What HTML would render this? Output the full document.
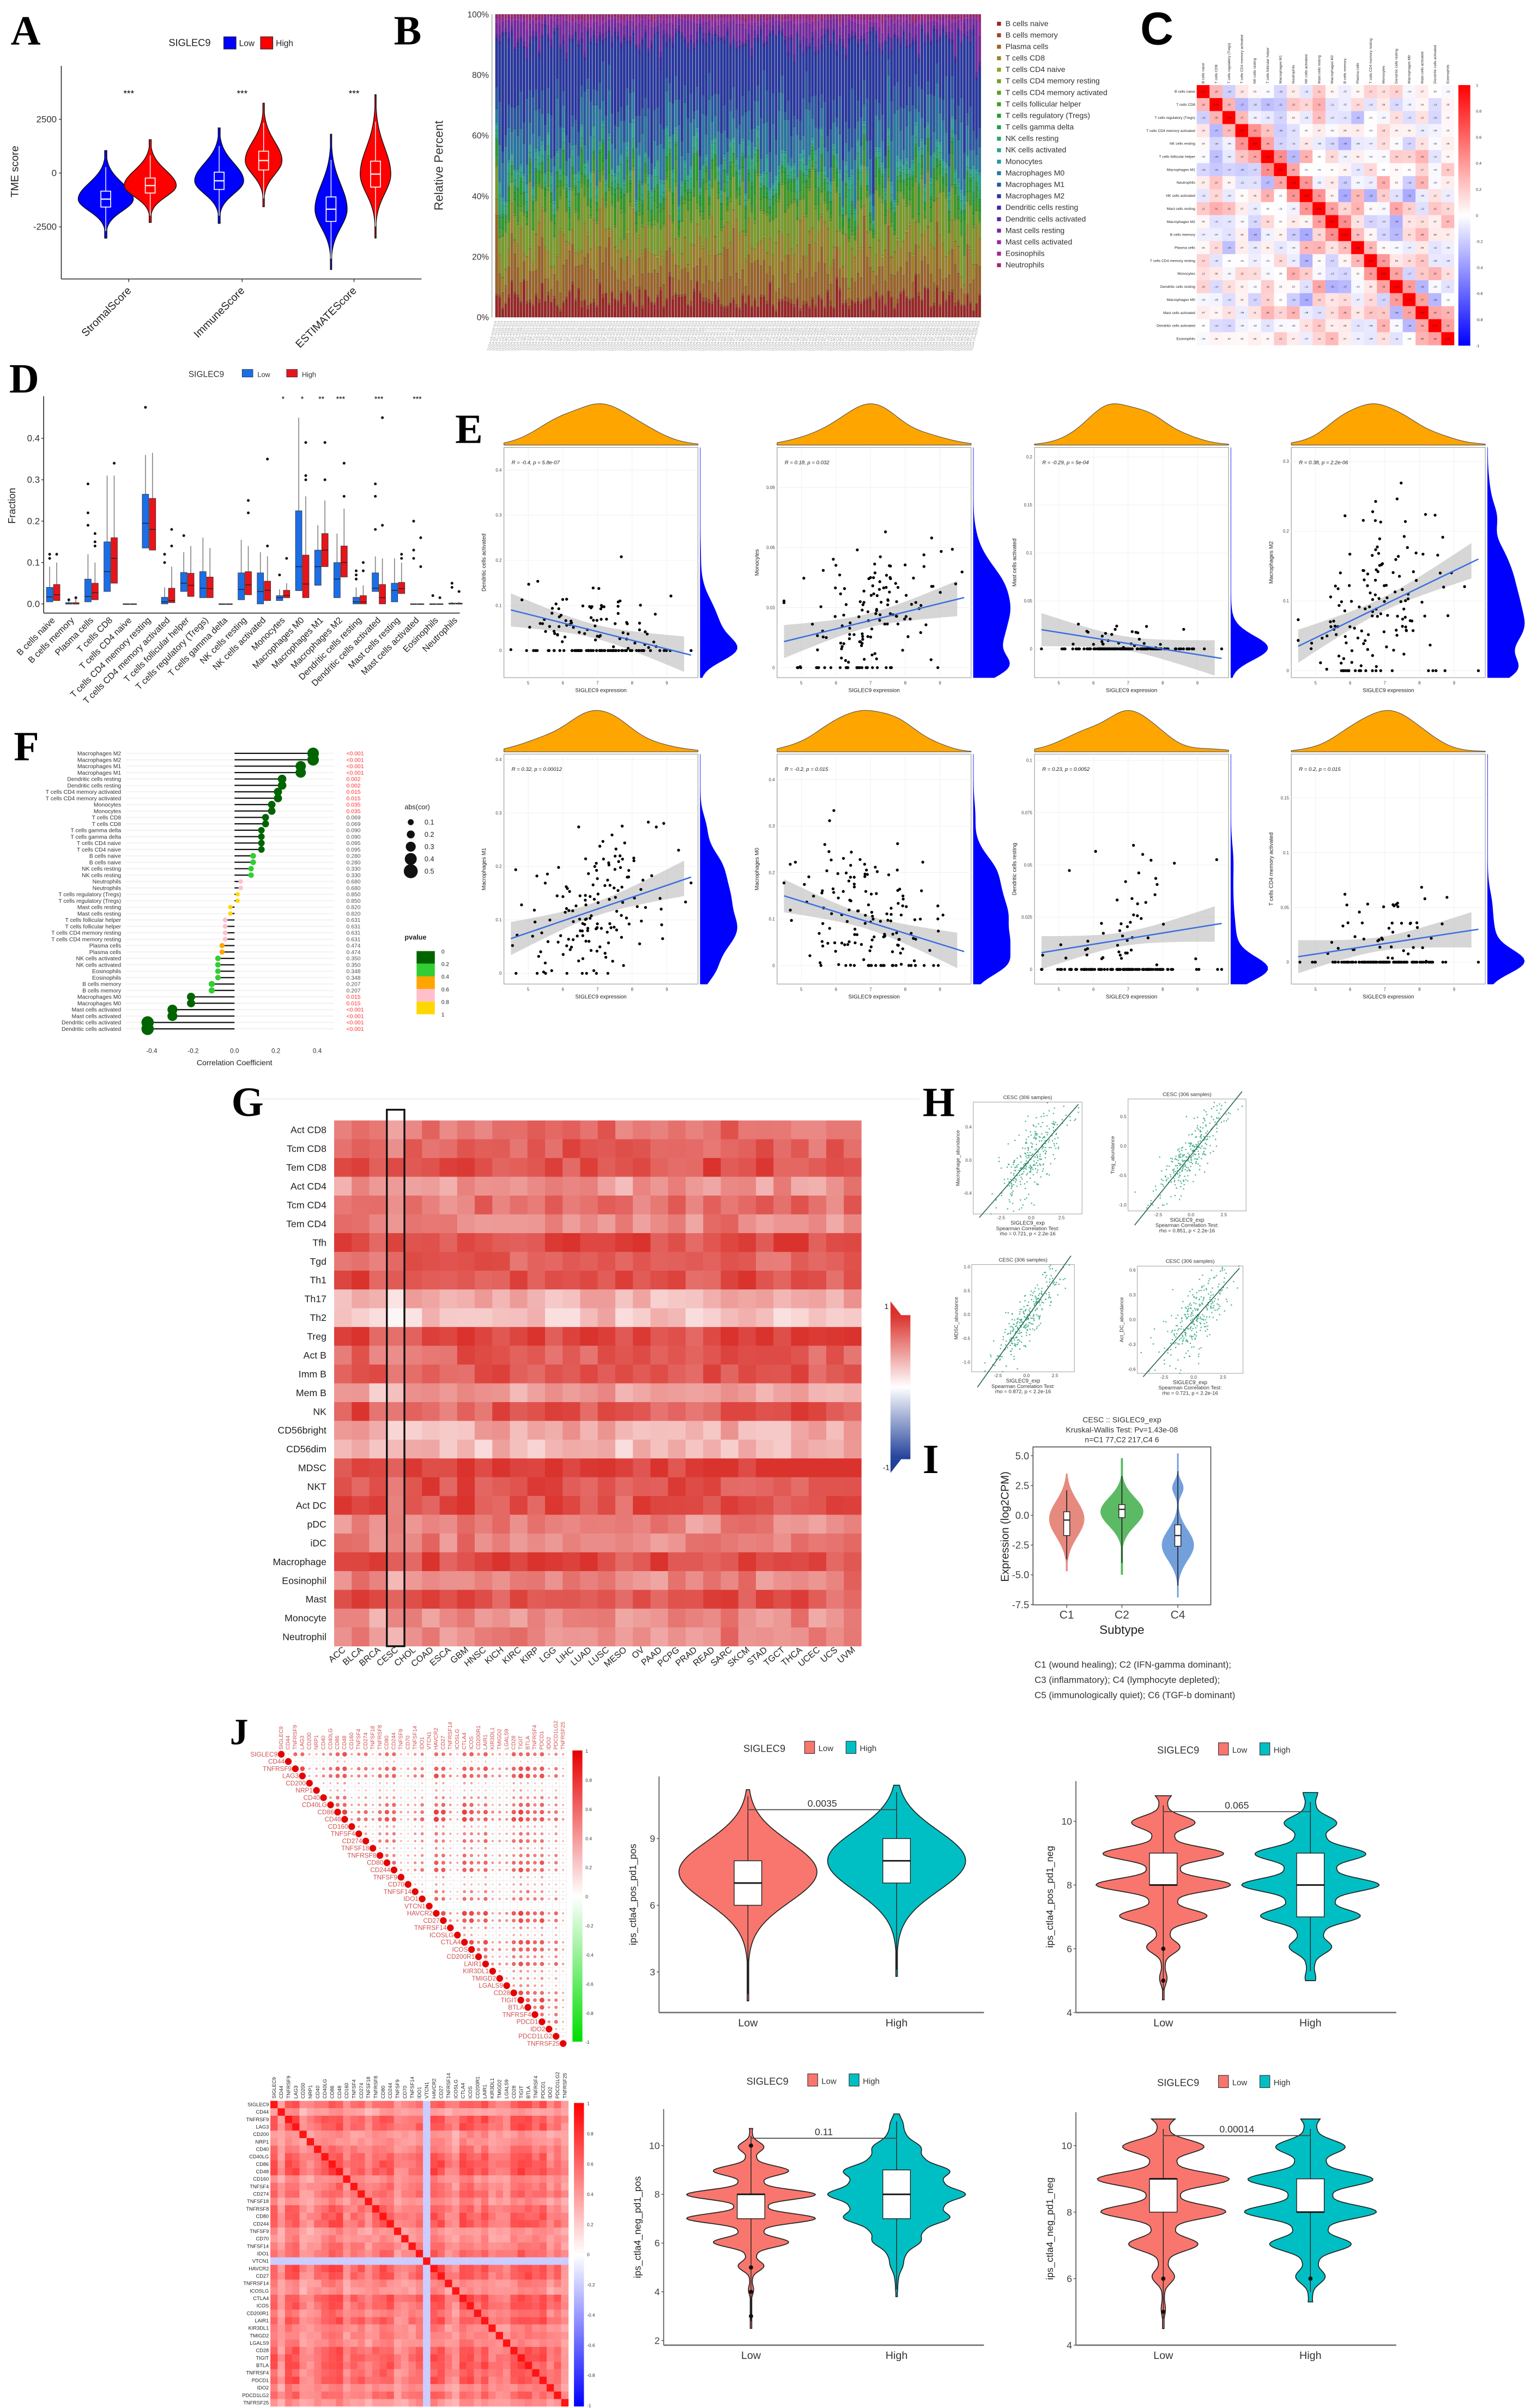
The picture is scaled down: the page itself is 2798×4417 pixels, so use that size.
<!DOCTYPE html>
<html><head><meta charset="utf-8"><title>SIGLEC9 immune infiltration figure</title>
<style>html,body{margin:0;padding:0;background:#fff}svg{display:block}</style></head>
<body>
<svg id="fig" xmlns="http://www.w3.org/2000/svg" width="2798" height="4417" viewBox="0 0 995 1571" preserveAspectRatio="none" font-family="Liberation Sans, Arial, sans-serif"></svg>
<script>
// ---------------- DATA ARRAYS ----------------
const tmeGroups=['StromalScore','ImmuneScore','ESTIMATEScore'];
const tmeLowMed=[-1210,-360,-1680];
const tmeLowSd=[550,600,850];
const tmeHighMed=[-580,580,-50];
const tmeHighSd=[520,650,900];

const cellTypes=['B cells naive','B cells memory','Plasma cells','T cells CD8','T cells CD4 naive','T cells CD4 memory resting','T cells CD4 memory activated','T cells follicular helper','T cells regulatory (Tregs)','T cells gamma delta','NK cells resting','NK cells activated','Monocytes','Macrophages M0','Macrophages M1','Macrophages M2','Dendritic cells resting','Dendritic cells activated','Mast cells resting','Mast cells activated','Eosinophils','Neutrophils'];
const cibMean=[0.07,0.01,0.12,0.11,0.005,0.14,0.01,0.05,0.04,0.01,0.04,0.03,0.01,0.12,0.1,0.28,0.01,0.02,0.05,0.02,0.005,0.01];
const nSamples=160;

const cLabels=['B cells naive','T cells CD8','T cells regulatory (Tregs)','T cells CD4 memory activated','NK cells resting','T cells follicular helper','Macrophages M1','Neutrophils','NK cells activated','Mast cells resting','Macrophages M2','B cells memory','Plasma cells','T cells CD4 memory resting','Monocytes','Dendritic cells resting','Macrophages M0','Mast cells activated','Dendritic cells activated','Eosinophils'];

const dLowQ1=[.005,0,.005,.03,0,.135,0,.03,.015,0,.01,0,.008,.032,.045,.015,0,.03,.005,0,0,0];
const dLowMed=[.017,0,.018,.078,0,.195,.005,.05,.038,0,.035,.03,.015,.09,.09,.06,.005,.038,.033,0,0,0];
const dLowQ3=[.04,.003,.06,.15,0,.265,.016,.076,.078,0,.075,.075,.02,.225,.13,.1,.016,.075,.05,0,0,.002];
const dLowMax=[.09,.01,.12,.31,0,.36,.04,.125,.16,0,.155,.125,.035,.45,.19,.17,.04,.115,.11,0,0,.005];
const dHighQ1=[.008,0,.01,.05,0,.13,.003,.018,.015,0,.022,.008,.015,.015,.09,.065,0,0,.025,0,0,0];
const dHighMed=[.022,0,.027,.11,0,.18,.008,.045,.037,0,.046,.033,.02,.048,.13,.1,.005,.015,.037,0,0,0];
const dHighQ3=[.047,.003,.05,.16,0,.255,.038,.074,.065,0,.078,.055,.033,.118,.17,.14,.02,.047,.052,0,0,.002];
const dHighMax=[.1,.012,.1,.31,0,.365,.09,.14,.135,0,.14,.115,.05,.26,.25,.23,.045,.11,.1,0,0,.005];
const dLowOut=[[.12,.11],[.01],[.29,.22,.19],[],[],[.475],[.12,.1],[.165],[],[],[],[],[.07],[],[],[],[.08,.07,.06],[.29,.26,.18],[],[.2,.13,.11],[.02],[.05,.04]];
const dHighOut=[[.12],[.015],[.17,.15,.14],[.34],[],[],[.18,.14],[],[],[],[.25,.22],[.35,.14],[.11],[.39,.31,.3],[.39,.3],[.34,.26],[.1,.08],[.45,.19],[.12,.11],[.16,.09],[.015],[.03]];
const dSig=['','','','','','','','','','','','','*','*','**','***','','***','','***','',''];

const eYLabels=['Dendritic cells activated','Monocytes','Mast cells activated','Macrophages M2','Macrophages M1','Macrophages M0','Dendritic cells resting','T cells CD4 memory activated'];
const eRText=['R = -0.4, p = 5.8e-07','R = 0.18, p = 0.032','R = -0.29, p = 5e-04','R = 0.38, p = 2.2e-06','R = 0.32, p = 0.00012','R = -0.2, p = 0.015','R = 0.23, p = 0.0052','R = 0.2, p = 0.015'];
const eYmin=[-0.06,-0.005,-0.03,-0.01,-0.02,-0.04,-0.007,-0.02];
const eYmax=[0.45,0.11,0.21,0.32,0.41,0.455,0.103,0.19];
const eLineA=[0.09,0.013,0.02,0.035,0.065,0.15,0.008,0.005];
const eLineB=[-0.01,0.035,-0.01,0.16,0.18,0.03,0.022,0.03];
const eNoise=[0.05,0.018,0.012,0.06,0.07,0.08,0.022,0.025];
const eZeroFrac=[0.25,0.1,0.75,0.05,0.02,0.05,0.6,0.55];
const eTicks=[[0,0.1,0.2,0.3,0.4],[0,0.03,0.06,0.09],[0,0.05,0.1,0.15,0.2],[0,0.1,0.2,0.3],[0,0.1,0.2,0.3,0.4],[0,0.1,0.2,0.3,0.4],[0,0.025,0.05,0.075,0.1],[0,0.05,0.1,0.15]];

const fLabels=['Macrophages M2','Macrophages M1','Dendritic cells resting','T cells CD4 memory activated','Monocytes','T cells CD8','T cells gamma delta','T cells CD4 naive','B cells naive','NK cells resting','Neutrophils','T cells regulatory (Tregs)','Mast cells resting','T cells follicular helper','T cells CD4 memory resting','Plasma cells','NK cells activated','Eosinophils','B cells memory','Macrophages M0','Mast cells activated','Dendritic cells activated'];
const fCor=[0.38,0.32,0.23,0.21,0.18,0.15,0.13,0.13,0.09,0.08,0.03,0.015,-0.02,-0.045,-0.045,-0.06,-0.08,-0.08,-0.11,-0.21,-0.3,-0.42];
const fP=[0.0001,0.0001,0.002,0.015,0.035,0.069,0.09,0.095,0.28,0.33,0.68,0.85,0.82,0.631,0.631,0.474,0.35,0.348,0.207,0.015,0.0001,0.0001];

const gRows=['Act CD8','Tcm CD8','Tem CD8','Act CD4','Tcm CD4','Tem CD4','Tfh','Tgd','Th1','Th17','Th2','Treg','Act B','Imm B','Mem B','NK','CD56bright','CD56dim','MDSC','NKT','Act DC','pDC','iDC','Macrophage','Eosinophil','Mast','Monocyte','Neutrophil'];
const gCols=['ACC','BLCA','BRCA','CESC','CHOL','COAD','ESCA','GBM','HNSC','KICH','KIRC','KIRP','LGG','LIHC','LUAD','LUSC','MESO','OV','PAAD','PCPG','PRAD','READ','SARC','SKCM','STAD','TGCT','THCA','UCEC','UCS','UVM'];
const gRowBase=[0.65,0.78,0.85,0.5,0.68,0.58,0.9,0.75,0.86,0.38,0.28,0.92,0.75,0.8,0.42,0.8,0.38,0.32,0.95,0.82,0.85,0.6,0.6,0.9,0.58,0.8,0.55,0.6];
const gColOff=[0,0.05,-0.05,-0.02,-0.02,0.03,-0.05,0.04,0,0.02,-0.03,0.01,0,0.02,-0.01,0.05,-0.04,0.01,-0.02,0,-0.05,0.01,0.05,0.02,0.01,0,0.04,-0.02,-0.03,0.05];

const hYLabels=['Macrophage_abundance','Treg_abundance','MDSC_abundance','Act_DC_abundance'];
const hRho=[0.721,0.851,0.872,0.721];
const hRhoText=['rho = 0.721, p < 2.2e-16','rho = 0.851, p < 2.2e-16','rho = 0.872, p < 2.2e-16','rho = 0.721, p < 2.2e-16'];
const hTicks=[[-0.4,0,0.4],[-1,-0.5,0,0.5],[-1,-0.5,0,0.5,1],[-0.6,-0.3,0,0.3,0.6]];
const hYRange=[[-0.65,0.7],[-1.1,0.8],[-1.2,1.05],[-0.65,0.65]];

const iSubtypes=['C1','C2','C4'];
const iMed=[-0.4,0.5,-1.7];
const iQ1=[-1.7,-0.2,-2.6];
const iQ3=[0.3,0.9,-0.8];
const iMin=[-4.7,-5.0,-6.9];
const iMax=[3.6,4.8,5.2];
const iPeak=[-0.3,0.3,-2.5];
const iSd=[1.5,1.2,1.3];

const genes=['SIGLEC9','CD44','TNFRSF9','LAG3','CD200','NRP1','CD40','CD40LG','CD86','CD48','CD160','TNFSF4','CD274','TNFSF18','TNFRSF8','CD80','CD244','TNFSF9','CD70','TNFSF14','IDO1','VTCN1','HAVCR2','CD27','TNFRSF14','ICOSLG','CTLA4','ICOS','CD200R1','LAIR1','KIR3DL1','TMIGD2','LGALS9','CD28','TIGIT','BTLA','TNFRSF4','PDCD1','IDO2','PDCD1LG2','TNFRSF25'];
const geneStrength=[0.85,0.35,0.9,0.9,0.45,0.45,0.65,0.8,0.95,0.95,0.5,0.7,0.75,0.5,0.75,0.85,0.85,0.45,0.5,0.65,0.75,0.05,0.95,0.9,0.55,0.45,0.95,0.9,0.7,0.9,0.55,0.6,0.55,0.85,0.95,0.9,0.8,0.9,0.55,0.75,0.45];

const ipsLabels=['ips_ctla4_pos_pd1_pos','ips_ctla4_pos_pd1_neg','ips_ctla4_neg_pd1_pos','ips_ctla4_neg_pd1_neg'];
const ipsP=['0.0035','0.065','0.11','0.00014'];
const ipsLowMed=[7,8,8,9];
const ipsLowQ1=[6,8,7,8];
const ipsLowQ3=[8,9,8,9];
const ipsHighMed=[8,8,8,8];
const ipsHighQ1=[7,7,7,8];
const ipsHighQ3=[9,9,9,9];
const ipsLowRange=[[1.7,11.2],[4.4,10.8],[2.5,10.7],[4.5,10.8]];
const ipsHighRange=[[2.8,11.4],[5,10.9],[3.8,11.3],[5.3,10.8]];
const ipsLowCenter=[7.5,8.3,7.5,8.6];
const ipsHighCenter=[8,8.1,8,8.4];
const ipsLowWave=[0,1,1,1];
const ipsHighWave=[0,0.8,0.35,0.9];
const ipsLowOut=[[],[6,5],[10,5,4,3],[6,5]];
const ipsHighOut=[[],[],[],[6]];
const ipsTicks=[[3,6,9],[4,6,8,10],[2,4,6,8,10],[4,6,8,10]];

// ---------------- HELPERS ----------------
const NS='http://www.w3.org/2000/svg';
const svg=document.getElementById('fig');
function mk(tag,at,par){const e=document.createElementNS(NS,tag);for(const k in at)e.setAttribute(k,at[k]);(par||svg).appendChild(e);return e;}
function nm(e,n){


return e;}
function tx(x,y,s,fs,o,n,par){const t=mk('text',Object.assign({x:x,y:y,'font-size':fs},o||{}),par);t.textContent=s;nm(t,n||'label');return t;}
function grp(n){const g=mk('g',{});nm(g,n);return g;}
let seed=12345;
function rnd(){seed=(seed*16807)%2147483647;return (seed-1)/2147483646;}
function rnorm(){const u=Math.max(rnd(),1e-9),v=rnd();return Math.sqrt(-2*Math.log(u))*Math.cos(2*Math.PI*v);}
function lerp(a,b,t){return a.map((x,i)=>Math.round(x+(b[i]-x)*t));}
function rgb(c){return 'rgb('+c.join(',')+')';}
function divc(v,neg,pos){v=Math.max(-1,Math.min(1,v));return rgb(v>=0?lerp([255,255,255],pos,v):lerp([255,255,255],neg,-v));}
function letter(ch,x,y,sans){tx(x,y,ch,sans?30:27,{'font-family':sans?'Liberation Sans, sans-serif':'Liberation Serif, serif','font-weight':'bold'},'panel-label-'+ch.toLowerCase());}
function line(x1,y1,x2,y2,st,w,par,n){const l=mk('line',{x1:x1,y1:y1,x2:x2,y2:y2,stroke:st,'stroke-width':w},par);nm(l,n||'line');return l;}
function violinPath(cx,yf,vals,widths){let r='',l='';for(let i=0;i<vals.length;i++){r+=(i?'L':'M')+(cx+widths[i]).toFixed(2)+','+yf(vals[i]).toFixed(2);}for(let i=vals.length-1;i>=0;i--){l+='L'+(cx-widths[i]).toFixed(2)+','+yf(vals[i]).toFixed(2);}return r+l+'Z';}
function kde(arr,at,bw){let s=0;for(const a of arr){const z=(at-a)/bw;s+=Math.exp(-0.5*z*z);}return s;}

// ---------------- PANEL A ----------------
(function(){
const g=grp('panel-a-tme-violin');
letter('A',7,29);
const yA=v=>112.9-v*35.1/2500;
line(40,43,40,182,'#333',0.6,g,'y-axis');
line(40,182,275,182,'#333',0.6,g,'x-axis');
[2500,0,-2500].forEach(v=>{line(38.5,yA(v),40,yA(v),'#333',0.5,g,'y-tick');tx(37,yA(v)+2,String(v),6,{'text-anchor':'end',fill:'#333'},'y-tick-label',g);});
tx(12,112,'TME score',7,{'text-anchor':'middle',transform:'rotate(-90 12 112)',fill:'#222'},'y-axis-title',g);
const centers=[84,158,231];
const hwL=[18,16,10.5],hwH=[17,12,10];
tmeGroups.forEach((name,i)=>{
 const cx=centers[i];
 [[tmeLowMed[i],tmeLowSd[i],cx-15,hwL[i],'#0000ff','low'],[tmeHighMed[i],tmeHighSd[i],cx+14,hwH[i],'#ff0000','high']].forEach(d=>{
  const [med,sd,x,hw,col,lv]=d;const vals=[],ws=[];
  for(let t=-3.3;t<=4.2;t+=0.1){vals.push(med+t*sd);const sk=t>0?Math.exp(-0.5*(t/1.35)**2):Math.exp(-0.5*t*t);ws.push(hw*Math.max(0.04,sk));}
  const p=mk('path',{d:violinPath(x,yA,vals,ws),fill:col,stroke:'#111','stroke-width':0.5},g);nm(p,'violin-'+lv+'-'+name);
  const q1=yA(med-0.67*sd),q3=yA(med+0.67*sd);
  line(x,yA(med-2.7*sd),x,yA(med+2.7*sd),'#fff',0.5,g,'whisker');
  const b=mk('rect',{x:x-3.2,y:q3,width:6.4,height:q1-q3,fill:col,stroke:'#fff','stroke-width':0.6},g);nm(b,'box-'+lv+'-'+name);
  line(x-3.2,yA(med),x+3.2,yA(med),'#fff',0.8,g,'median');
 });
 tx(cx,63,'***',6,{'text-anchor':'middle'},'significance-stars',g);
 line(cx,182,cx,184,'#333',0.5,g,'x-tick');
 tx(cx+2,190,name,7,{'text-anchor':'end',transform:'rotate(-45 '+(cx+2)+' 190)',fill:'#222'},'x-tick-label',g);
});
tx(110,30,'SIGLEC9',6.5,{fill:'#222'},'legend-title',g);
const lb=mk('rect',{x:146,y:24,width:8,height:8,fill:'#0000ff',stroke:'#222','stroke-width':0.4},g);nm(lb,'legend-swatch-low');
tx(156,30,'Low',5.5,{fill:'#222'},'legend-label-low',g);
const hb=mk('rect',{x:170,y:24,width:8,height:8,fill:'#ff0000',stroke:'#222','stroke-width':0.4},g);nm(hb,'legend-swatch-high');
tx(180,30,'High',5.5,{fill:'#222'},'legend-label-high',g);
})();

// ---------------- PANEL B ----------------
(function(){
const g=grp('panel-b-stacked-bar');
letter('B',257,29);
const x0=323.2,x1=640.3,yT=9.3,yB=207;
const col=i=>'hsl('+(i*15.5)+',62%,'+(i<10?38:40)+'%)';
const bw=(x1-x0)/nSamples;
const labG=grp('sample-labels');
for(let s=0;s<nSamples;s++){
 const fr=cibMean.map(m=>m*Math.exp(0.45*rnorm()));const tot=fr.reduce((a,b)=>a+b,0);
 let acc=0;
 fr.forEach((f,i)=>{const h=f/tot*(yB-yT);const r=mk('rect',{x:(x0+s*bw).toFixed(2),y:(yB-acc-h).toFixed(2),width:(bw*0.85).toFixed(2),height:h.toFixed(2),fill:col(i),stroke:'#222','stroke-width':0.08},g);nm(r,'bar-segment');acc+=h;});
 const lx=x0+s*bw+bw/2;
 tx(lx,209.5,'TCGA-'+['C5','EK','FU','VS','DS','MY'][s%6]+'-A'+(100+s)+'-01A',2.2,{'text-anchor':'end',fill:'#999',transform:'rotate(-76 '+lx+' 209.5)'},'sample-label',labG);
}
line(321,yT,321,yB,'#888',0.4,g,'y-axis');
[0,20,40,60,80,100].forEach(v=>{const y=yB-v/100*(yB-yT);tx(319,y+2,v+'%',5.5,{'text-anchor':'end',fill:'#333'},'y-tick-label',g);});
tx(289,108,'Relative Percent',8,{'text-anchor':'middle',transform:'rotate(-90 289 108)',fill:'#333'},'y-axis-title',g);
cellTypes.forEach((n,i)=>{const y=17+i*7.5;const r=mk('rect',{x:650.5,y:y-2.8,width:2.6,height:2.6,fill:col(i)},g);nm(r,'legend-swatch');tx(656,y,n,5,{fill:'#333'},'legend-entry',g);});
})();

// ---------------- PANEL C ----------------
(function(){
const g=grp('panel-c-correlation-heatmap');
letter('C',744,29,true);
const n=cLabels.length,x0=780.8,y0=55.5,cw=168/n,rh=169.7/n;
const M=[];for(let i=0;i<n;i++){M.push([]);}
for(let i=0;i<n;i++)for(let j=0;j<=i;j++){let v=i===j?1:Math.max(-0.6,Math.min(0.6,rnorm()*0.14));if(Math.abs(i-j)===1)v=0.25+0.2*rnd();M[i][j]=v;M[j][i]=v;}
for(let i=0;i<n;i++)for(let j=0;j<n;j++){
 const r=mk('rect',{x:x0+j*cw,y:y0+i*rh,width:cw+0.05,height:rh+0.05,fill:divc(M[i][j],[0,0,255],[255,0,0])},g);nm(r,'heatmap-cell');
 tx(x0+j*cw+cw/2,y0+i*rh+rh/2+0.6,M[i][j].toFixed(2).replace('0.','.'),1.6,{'text-anchor':'middle',fill:'#222'},'cell-value',g);
}
cLabels.forEach((l,i)=>{tx(x0-1,y0+i*rh+rh/2+0.8,l,2.4,{'text-anchor':'end',fill:'#222'},'row-label',g);const cx=x0+i*cw+cw/2;tx(cx+0.8,y0-1,l,2.4,{transform:'rotate(-90 '+(cx+0.8)+' '+(y0-1)+')',fill:'#222'},'column-label',g);});
const defs=mk('defs',{},g);const lg=mk('linearGradient',{id:'cbarC',x1:0,y1:0,x2:0,y2:1},defs);
mk('stop',{offset:'0',"stop-color":'#ff0000'},lg);mk('stop',{offset:'0.5',"stop-color":'#ffffff'},lg);mk('stop',{offset:'1',"stop-color":'#0000ff'},lg);
const cb=mk('rect',{x:951.5,y:55.5,width:7.8,height:170,fill:'url(#cbarC)'},g);nm(cb,'colorbar');
[1,0.8,0.6,0.4,0.2,0,-0.2,-0.4,-0.6,-0.8,-1].forEach((v,k)=>tx(963,55.5+k*17+1,String(v),2.6,{fill:'#333'},'colorbar-tick',g));
})();

// ---------------- PANEL D ----------------
(function(){
const g=grp('panel-d-boxplot');
letter('D',6,256);
const yD=v=>394-v*270;
line(28.5,258.5,28.5,400,'#333',0.6,g,'y-axis');
line(28.5,400,300,400,'#333',0.6,g,'x-axis');
[0,0.1,0.2,0.3,0.4].forEach(v=>{line(27,yD(v),28.5,yD(v),'#333',0.5,g,'y-tick');tx(26,yD(v)+2,v.toFixed(1),6,{'text-anchor':'end',fill:'#333'},'y-tick-label',g);});
tx(10,330,'Fraction',6.5,{'text-anchor':'middle',transform:'rotate(-90 10 330)',fill:'#222'},'y-axis-title',g);
cellTypes.forEach((n,i)=>{
 const cx=34.7+i*12.5;
 [[dLowQ1,dLowMed,dLowQ3,dLowMax,dLowOut,'#1b6ee8',-2.3,'low'],[dHighQ1,dHighMed,dHighQ3,dHighMax,dHighOut,'#e8141b',2.3,'high']].forEach(s=>{
  const [q1,md,q3,mx,out,c,off,lv]=s;const x=cx+off;
  line(x,yD(mx[i]),x,yD(q1[i]),'#888',0.6,g,'whisker');
  const r=mk('rect',{x:x-2.1,y:yD(q3[i]),width:4.2,height:Math.max(0.4,yD(q1[i])-yD(q3[i])),fill:c,stroke:'#333','stroke-width':0.3},g);nm(r,'box-'+lv+'-'+n);
  line(x-2.1,yD(md[i]),x+2.1,yD(md[i]),'#222',0.5,g,'median');
  out[i].forEach(v=>{const d=mk('circle',{cx:x,cy:yD(v),r:0.9,fill:'#111'},g);nm(d,'outlier');});
 });
 if(dSig[i])tx(cx,262,dSig[i],5,{'text-anchor':'middle'},'significance-stars',g);
 tx(cx+1.5,405,n,5.8,{'text-anchor':'end',transform:'rotate(-45 '+(cx+1.5)+' 405)',fill:'#222'},'x-tick-label',g);
});
tx(123,246,'SIGLEC9',5.5,{fill:'#333'},'legend-title',g);
const a=mk('rect',{x:158,y:241,width:7,height:5,fill:'#1b6ee8',stroke:'#333','stroke-width':0.3},g);nm(a,'legend-swatch-low');
tx(168,246,'Low',4.5,{fill:'#333'},'legend-label-low',g);
const b=mk('rect',{x:187,y:241,width:7,height:5,fill:'#e8141b',stroke:'#333','stroke-width':0.3},g);nm(b,'legend-swatch-high');
tx(197,246,'High',4.5,{fill:'#333'},'legend-label-high',g);
})();

// ---------------- PANEL E ----------------
(function(){
letter('E',297,289);
const ex0=[328.8,507,675,842.5];
const rows=[[291.9,442.1],[492,642]];
const fw=126.6;
for(let p=0;p<8;p++){
 const g=grp('panel-e-scatter-'+(p+1));
 const fx=ex0[p%4],[fy0,fy1]=rows[Math.floor(p/4)];
 const xs=v=>fx+(v-4.3)/(9.9-4.3)*fw;
 const ys=v=>fy1-(v-eYmin[p])/(eYmax[p]-eYmin[p])*(fy1-fy0);
 const fr=mk('rect',{x:fx,y:fy0,width:fw,height:fy1-fy0,fill:'#fff',stroke:'#999','stroke-width':0.4},g);nm(fr,'plot-frame');
 eTicks[p].forEach(v=>{line(fx,ys(v),fx+fw,ys(v),'#eee',0.3,g,'gridline');tx(fx-1.5,ys(v)+1,String(v),2.8,{'text-anchor':'end',fill:'#444'},'y-tick-label',g);});
 [5,6,7,8,9].forEach(v=>{line(xs(v),fy0,xs(v),fy1,'#eee',0.3,g,'gridline');tx(xs(v),fy1+4.5,String(v),2.8,{'text-anchor':'middle',fill:'#444'},'x-tick-label',g);});
 const px=[],py=[];
 for(let k=0;k<150;k++){let x=6.9+rnorm()*1.0;x=Math.max(4.5,Math.min(9.7,x));let y=eLineA[p]+(eLineB[p]-eLineA[p])*(x-4.5)/5.1+eNoise[p]*rnorm();if(rnd()<eZeroFrac[p]||y<0)y=0;y=Math.min(y,eYmax[p]*0.97);px.push(x);py.push(y);}
 let top='',bot='';const se=(eYmax[p]-eYmin[p])*0.03;
 for(let x=4.5;x<=9.71;x+=0.25){const y=eLineA[p]+(eLineB[p]-eLineA[p])*(x-4.5)/5.1;const h=se*Math.sqrt(1+((x-6.9)/1.1)**2);top+=(top?'L':'M')+xs(x).toFixed(2)+','+ys(y+h).toFixed(2);bot='L'+xs(x).toFixed(2)+','+ys(y-h).toFixed(2)+bot;}
 const band=mk('path',{d:top+bot+'Z',fill:'#bbb','fill-opacity':0.6},g);nm(band,'confidence-band');
 px.forEach((x,k)=>{const c=mk('circle',{cx:xs(x).toFixed(2),cy:ys(py[k]).toFixed(2),r:0.95,fill:'#000'},g);nm(c,'point');});
 line(xs(4.5),ys(eLineA[p]),xs(9.7),ys(eLineB[p]),'#3b6fe0',0.9,g,'regression-line');
 tx(fx+5,fy0+11,eRText[p],3.4,{fill:'#222','font-style':'italic'},'correlation-annotation',g);
 tx(fx+fw/2,fy1+9.5,'SIGLEC9 expression',3.6,{'text-anchor':'middle',fill:'#222'},'x-axis-title',g);
 const yl=fx-12,ym=(fy0+fy1)/2;tx(yl,ym,eYLabels[p],3.6,{'text-anchor':'middle',transform:'rotate(-90 '+yl+' '+ym+')',fill:'#222'},'y-axis-title',g);
 let d='M'+xs(4.3)+','+(fy0-1.5);let mxv=0;const tv=[];for(let x=4.3;x<=9.9;x+=0.1){const k=kde(px,x,0.45);tv.push([x,k]);mxv=Math.max(mxv,k);}
 tv.forEach(([x,k])=>{d+='L'+xs(x).toFixed(2)+','+(fy0-1.5-k/mxv*27).toFixed(2);});d+='L'+xs(9.9)+','+(fy0-1.5)+'Z';
 const td=mk('path',{d:d,fill:'#ffa500',stroke:'#555','stroke-width':0.4},g);nm(td,'top-density');
 let d2='M'+(fx+fw+1.5)+','+ys(eYmin[p]);let m2=0;const rv=[];const bw=(eYmax[p]-eYmin[p])*0.05;for(let y=eYmin[p];y<=eYmax[p];y+=(eYmax[p]-eYmin[p])/80){const k=kde(py,y,bw);rv.push([y,k]);m2=Math.max(m2,k);}
 rv.forEach(([y,k])=>{d2+='L'+(fx+fw+1.5+k/m2*24).toFixed(2)+','+ys(y).toFixed(2);});d2+='L'+(fx+fw+1.5)+','+ys(eYmax[p])+'Z';
 const rd=mk('path',{d:d2,fill:'#0000ff',stroke:'#0000ff','stroke-width':0.3},g);nm(rd,'right-density');
}
})();

// ---------------- PANEL F ----------------
(function(){
const g=grp('panel-f-lollipop');
letter('F',9,496);
const y0=491.5,st=4.18,xF=v=>153+v*135;
for(let k=0;k<44;k++){const y=y0+k*st;line(82,y,218,y,'#eee',0.5,g,'gridline');}
const pcol=p=>p<0.2?'#006400':p<0.4?'#32cd32':p<0.6?'#ffa500':p<0.8?'#ffc0cb':'#ffd700';
fLabels.forEach((l,i)=>{
 for(let r=0;r<2;r++){const k=i*2+r,y=y0+k*st;
  tx(79,y+1.3,l,3.7,{'text-anchor':'end',fill:'#333'},'row-label',g);
  line(xF(0),y,xF(fCor[i]),y,'#111',0.8,g,'lollipop-stem');
  const c=mk('circle',{cx:xF(fCor[i]),cy:y,r:1.3+Math.abs(fCor[i])*6.5,fill:pcol(fP[i])},g);nm(c,'lollipop-head');
  const ps=fP[i]<0.001?'<0.001':fP[i].toFixed(3);
  tx(226,y+1.3,ps,3.7,{fill:fP[i]<0.05?'#ff3030':'#555'},'pvalue-label',g);
 }
});
[-0.4,-0.2,0,0.2,0.4].forEach(v=>tx(xF(v),687,v.toFixed(1),4.2,{'text-anchor':'middle',fill:'#333'},'x-tick-label',g));
tx(153,695,'Correlation Coefficient',5,{'text-anchor':'middle',fill:'#222'},'x-axis-title',g);
tx(264,528,'abs(cor)',4.5,{fill:'#222'},'legend-title-size',g);
[0.1,0.2,0.3,0.4,0.5].forEach((v,k)=>{const y=536.4+k*8;const c=mk('circle',{cx:268,cy:y,r:1.3+v*6.5,fill:'#111'},g);nm(c,'legend-size-dot');tx(277,y+1.6,String(v),4.5,{fill:'#222'},'legend-size-label',g);});
tx(264,613,'pvalue',4.5,{fill:'#222','font-weight':'bold'},'legend-title-color',g);
['#006400','#32cd32','#ffa500','#ffc0cb','#ffd700'].forEach((c,k)=>{const r=mk('rect',{x:271.8,y:620.5+k*8.24,width:11.9,height:8.24,fill:c},g);nm(r,'legend-color-block');});
['0','0.2','0.4','0.6','0.8','1'].forEach((s,k)=>tx(288,622+k*8.24,s,3.6,{fill:'#222'},'legend-color-label',g));
})();

// ---------------- PANEL G ----------------
(function(){
const g=grp('panel-g-pancancer-heatmap');
letter('G',151,728);
line(160,717,600,717,'#e6e6e6',0.5,g,'panel-border');
const x0=218,x1=562,y0=731,y1=1074;
const cw=(x1-x0)/gCols.length,rh=(y1-y0)/gRows.length;
gRows.forEach((r,i)=>{
 gCols.forEach((c,j)=>{let v=gRowBase[i]+gColOff[j]+(rnd()-0.5)*0.3;if(j===3)v-=0.08;const cell=mk('rect',{x:(x0+j*cw).toFixed(2),y:(y0+i*rh).toFixed(2),width:(cw+0.1).toFixed(2),height:(rh+0.1).toFixed(2),fill:divc(v,[33,64,154],[218,50,44])},g);nm(cell,'heatmap-cell');});
 tx(213,y0+i*rh+rh/2+2.2,r,6.3,{'text-anchor':'end',fill:'#222'},'row-label',g);
});
gCols.forEach((c,j)=>{const cx=x0+j*cw+cw/2+2;tx(cx,y1+3,c,5.8,{'text-anchor':'end',transform:'rotate(-40 '+cx+' '+(y1+3)+')',fill:'#222'},'column-label',g);});
const sel=mk('rect',{x:x0+3*cw,y:724,width:cw,height:y1-724,fill:'none',stroke:'#111','stroke-width':1.2},g);nm(sel,'highlight-cesc-column');
const defs=mk('defs',{},g);const lg=mk('linearGradient',{id:'cbarG',x1:0,y1:0,x2:0,y2:1},defs);
mk('stop',{offset:'0',"stop-color":'#da322c'},lg);mk('stop',{offset:'0.5',"stop-color":'#ffffff'},lg);mk('stop',{offset:'1',"stop-color":'#21409a'},lg);
const cb=mk('rect',{x:581,y:858,width:13,height:94,fill:'url(#cbarG)'},g);nm(cb,'colorbar');
const t1=mk('polygon',{points:'581,849 581,858 588,858',fill:'#da322c'},g);nm(t1,'colorbar-top-arrow');
const t2=mk('polygon',{points:'581,952 581,961 588,952',fill:'#21409a'},g);nm(t2,'colorbar-bottom-arrow');
tx(577,854,'1',5,{fill:'#222'},'colorbar-max',g);tx(576,959,'-1',5,{fill:'#222'},'colorbar-min',g);
})();

// ---------------- PANEL H ----------------
(function(){
letter('H',602,728);
const frames=[[635,719,706,792],[736,717,813,790],[634,825,701,895],[742,826,811,896]];
frames.forEach((f,p)=>{
 const g=grp('panel-h-scatter-'+(p+1));
 const [a,b,c,d]=f;const xs=v=>a+(v+4.8)/(9)*(c-a);const [lo,hi]=hYRange[p];const ys=v=>d-(v-lo)/(hi-lo)*(d-b);
 const fr=mk('rect',{x:a,y:b,width:c-a,height:d-b,fill:'#fff',stroke:'#aaa','stroke-width':0.4},g);nm(fr,'plot-frame');
 const sd=(hi-lo)/4.2;
 for(let k=0;k<300;k++){const z=rnorm();const x=Math.max(-4.5,Math.min(3.9,z*1.4));const y=(lo+hi)/2+sd*(hRho[p]*z+Math.sqrt(1-hRho[p]**2)*rnorm())*0.95;if(y<lo||y>hi)continue;const pt=mk('circle',{cx:xs(x).toFixed(2),cy:ys(y).toFixed(2),r:0.45,fill:'#4fb393'},g);nm(pt,'point');}
 line(xs(-4.3),ys((lo+hi)/2-sd*hRho[p]*3.1),xs(3.9),ys((lo+hi)/2+sd*hRho[p]*2.8),'#2e6b4f',0.6,g,'fit-line');
 tx((a+c)/2,b-2,'CESC (306 samples)',3.4,{'text-anchor':'middle',fill:'#333'},'plot-title',g);
 [-2.5,0,2.5].forEach(v=>tx(xs(v),d+3.5,v.toFixed(1),3,{'text-anchor':'middle',fill:'#444'},'x-tick-label',g));
 hTicks[p].forEach(v=>tx(a-1,ys(v)+1,v.toFixed(1),3,{'text-anchor':'end',fill:'#444'},'y-tick-label',g));
 tx((a+c)/2,d+7,'SIGLEC9_exp',3.5,{'text-anchor':'middle',fill:'#333'},'x-axis-title',g);
 tx((a+c)/2,d+10.5,'Spearman Correlation Test:',3.4,{'text-anchor':'middle',fill:'#333'},'test-name',g);
 tx((a+c)/2,d+14,hRhoText[p],3.4,{'text-anchor':'middle',fill:'#333'},'test-result',g);
 const yl=a-9,ym=(b+d)/2;tx(yl,ym,hYLabels[p],3.3,{'text-anchor':'middle',transform:'rotate(-90 '+yl+' '+ym+')',fill:'#333'},'y-axis-title',g);
});
})();

// ---------------- PANEL I ----------------
(function(){
const g=grp('panel-i-subtype-violin');
letter('I',602,961);
const yI=v=>988.6-v*7.77;
const fr=mk('rect',{x:674,y:944,width:116,height:103,fill:'#fff',stroke:'#555','stroke-width':0.6},g);nm(fr,'plot-frame');
[5,2.5,0,-2.5,-5,-7.5].forEach(v=>{line(672.5,yI(v),674,yI(v),'#555',0.5,g,'y-tick');tx(671.5,yI(v)+2.3,v.toFixed(1),6.5,{'text-anchor':'end',fill:'#444'},'y-tick-label',g);});
tx(658,996,'Expression (log2CPM)',7.2,{'text-anchor':'middle',transform:'rotate(-90 658 996)',fill:'#222'},'y-axis-title',g);
const cols=['#e2766a','#3fae49','#5b8fd6'],cx=[696,732,768.5],hw=[11.5,14,10.5];
iSubtypes.forEach((s,i)=>{
 const vals=[],ws=[];for(let v=iMin[i];v<=iMax[i];v+=0.1){vals.push(v);let w=Math.exp(-0.5*((v-iPeak[i])/iSd[i])**2);if(i===2)w+=0.35*Math.exp(-0.5*((v-2.3)/0.6)**2);ws.push(hw[i]*Math.max(0.05,w));}
 const p=mk('path',{d:violinPath(cx[i],yI,vals,ws),fill:cols[i],'fill-opacity':0.85},g);nm(p,'violin-'+s);
 line(cx[i],yI(iMin[i]+1),cx[i],yI(iMax[i]-1.5),'#222',0.6,g,'whisker');
 const b=mk('rect',{x:cx[i]-2,y:yI(iQ3[i]),width:4,height:yI(iQ1[i])-yI(iQ3[i]),fill:'#fff',stroke:'#222','stroke-width':0.5},g);nm(b,'box-'+s);
 line(cx[i]-2,yI(iMed[i]),cx[i]+2,yI(iMed[i]),'#222',0.8,g,'median');
 line(cx[i],1047,cx[i],1049,'#555',0.5,g,'x-tick');
 tx(cx[i],1056,s,7.5,{'text-anchor':'middle',fill:'#444'},'x-tick-label',g);
});
tx(732,1066,'Subtype',8,{'text-anchor':'middle',fill:'#222'},'x-axis-title',g);
tx(732,928,'CESC :: SIGLEC9_exp',5,{'text-anchor':'middle',fill:'#333'},'plot-title',g);
tx(732,934.5,'Kruskal-Wallis Test: Pv=1.43e-08',5,{'text-anchor':'middle',fill:'#333'},'plot-subtitle',g);
tx(732,941,'n=C1 77,C2 217,C4 6',5,{'text-anchor':'middle',fill:'#333'},'plot-sample-sizes',g);
['C1 (wound healing); C2 (IFN-gamma dominant);','C3 (inflammatory); C4 (lymphocyte depleted);','C5 (immunologically quiet); C6 (TGF-b dominant)'].forEach((s,k)=>tx(675,1088+k*10,s,6,{fill:'#333'},'subtype-legend-line',g));
})();

// ---------------- PANEL J: correlation triangle ----------------
(function(){
const g=grp('panel-j-correlation-triangle');
tx(150,1138,'J',24,{'font-family':'Liberation Serif, serif','font-weight':'bold'},'panel-label-j');
const n=genes.length,x0=183.5,y0=1144.5,cw=(367.4-183.5)/(n-1),rh=(1333.2-1144.5)/(n-1);
for(let i=0;i<n;i++){
 for(let j=i;j<n;j++){
  const cx=x0+j*cw,cy=y0+i*rh;
  const bg=mk('rect',{x:cx-cw/2,y:cy-rh/2,width:cw,height:rh,fill:'#fff',stroke:'#e4e4e4','stroke-width':0.2},g);nm(bg,'grid-cell');
  let v=i===j?1:geneStrength[i]*geneStrength[j]*0.8+(rnd()-0.5)*0.12;
  if((i===21||j===21)&&i!==j)v=-0.04;
  const c=mk('circle',{cx:cx,cy:cy,r:Math.max(0.3,Math.abs(v)*2.2),fill:divc(v,[0,230,0],[230,0,0])},g);nm(c,'correlation-dot');
 }
 tx(x0+i*cw-2.4,y0+i*rh+1.4,genes[i],4.2,{'text-anchor':'end',fill:'#d05050'},'diagonal-gene-label',g);
 const cx=x0+i*cw+1;tx(cx,y0-3,genes[i],3.6,{transform:'rotate(-90 '+cx+' '+(y0-3)+')',fill:'#d05050'},'column-gene-label',g);
}
const defs=mk('defs',{},g);const lg=mk('linearGradient',{id:'cbarJ1',x1:0,y1:0,x2:0,y2:1},defs);
mk('stop',{offset:'0',"stop-color":'#e60000'},lg);mk('stop',{offset:'0.5',"stop-color":'#ffffff'},lg);mk('stop',{offset:'1',"stop-color":'#00dd00'},lg);
const cb=mk('rect',{x:373.5,y:1142,width:6.5,height:190,fill:'url(#cbarJ1)'},g);nm(cb,'colorbar');
[1,0.8,0.6,0.4,0.2,0,-0.2,-0.4,-0.6,-0.8,-1].forEach((v,k)=>tx(382,1143.5+k*19,String(v),3,{fill:'#333'},'colorbar-tick',g));
})();

// ---------------- PANEL J: full heatmap ----------------
(function(){
const g=grp('panel-j-checkpoint-heatmap');
const n=genes.length,x0=176.4,x1=370.9,y0=1370.6,y1=1570,cw=(x1-x0)/n,rh=(y1-y0)/n;
for(let i=0;i<n;i++){for(let j=0;j<n;j++){
 let v=i===j?1:0.25+geneStrength[i]*geneStrength[j]*0.6+(rnd()-0.5)*0.15;
 if((i===21||j===21)&&i!==j)v=-0.2;
 const c=mk('rect',{x:(x0+j*cw).toFixed(2),y:(y0+i*rh).toFixed(2),width:(cw+0.05).toFixed(2),height:(rh+0.05).toFixed(2),fill:divc(v,[0,0,255],[255,20,20])},g);nm(c,'heatmap-cell');
}
 tx(x0-1,y0+i*rh+rh/2+1.1,genes[i],3.3,{'text-anchor':'end',fill:'#222'},'row-label',g);
 const cx=x0+i*cw+cw/2+1.1;tx(cx,y0-1.5,genes[i],3.3,{transform:'rotate(-90 '+cx+' '+(y0-1.5)+')',fill:'#222'},'column-label',g);
}
const defs=mk('defs',{},g);const lg=mk('linearGradient',{id:'cbarJ2',x1:0,y1:0,x2:0,y2:1},defs);
mk('stop',{offset:'0',"stop-color":'#ff0000'},lg);mk('stop',{offset:'0.5',"stop-color":'#ffffff'},lg);mk('stop',{offset:'1',"stop-color":'#0000ff'},lg);
const cb=mk('rect',{x:374.5,y:1372,width:6.5,height:198,fill:'url(#cbarJ2)'},g);nm(cb,'colorbar');
[1,0.8,0.6,0.4,0.2,0,-0.2,-0.4,-0.6,-0.8,-1].forEach((v,k)=>tx(383,1373.5+k*19.7,String(v),3,{fill:'#333'},'colorbar-tick',g));
})();

// ---------------- PANEL J: IPS violins ----------------
(function(){
const axX=[430,702,433,702],right=[642,911,642,911],yBot=[1313,1313,1530,1530],yTop=[1159,1162,1376,1378];
const yBase=[[1243,6,14.5],[1313,4,20.8],[1527,2,15.9],[1530,4,21.7]];
const cLow=[488,759,490,759],cHigh=[585,855,585,855],legY=[1140,1141,1357,1358],legX=[485,755,487,755];
for(let p=0;p<4;p++){
 const g=grp('panel-j-ips-violin-'+(p+1));
 const [yb,vb,sc]=yBase[p];const yf=v=>yb-(v-vb)*sc;
 line(axX[p],yTop[p],axX[p],yBot[p],'#555',0.6,g,'y-axis');
 line(axX[p],yBot[p],right[p],yBot[p],'#777',1,g,'x-axis');
 ipsTicks[p].forEach(v=>{line(axX[p]-1.5,yf(v),axX[p],yf(v),'#555',0.5,g,'y-tick');tx(axX[p]-2.5,yf(v)+2.2,String(v),6.3,{'text-anchor':'end',fill:'#444'},'y-tick-label',g);});
 const yl=axX[p]-15,ym=(yTop[p]+yBot[p])/2;tx(yl,ym,ipsLabels[p],6.3,{'text-anchor':'middle',transform:'rotate(-90 '+yl+' '+ym+')',fill:'#222'},'y-axis-title',g);
 [[ipsLowRange,ipsLowCenter,ipsLowWave,ipsLowQ1,ipsLowMed,ipsLowQ3,ipsLowOut,cLow,'#f8766d','Low'],[ipsHighRange,ipsHighCenter,ipsHighWave,ipsHighQ1,ipsHighMed,ipsHighQ3,ipsHighOut,cHigh,'#00bfc4','High']].forEach(s=>{
  const [rg,ce,wv,q1,md,q3,out,cx,col,lv]=s;const vals=[],ws=[];
  for(let v=rg[p][0];v<=rg[p][1]+1e-6;v+=0.05){vals.push(v);const gss=Math.exp(-0.5*((v-ce[p])/1.35)**2);const wave=Math.pow(0.5+0.5*Math.cos(2*Math.PI*v),1.5);const w=gss*((1-wv[p])+wv[p]*(0.25+0.75*wave));ws.push(Math.max(0.5,45*w));}
  const pa=mk('path',{d:violinPath(cx[p],yf,vals,ws),fill:col,stroke:'#222','stroke-width':0.6},g);nm(pa,'violin-'+lv);
  line(cx[p],yf(rg[p][0]+0.3),cx[p],yf(rg[p][1]-0.3),'#222',0.5,g,'whisker');
  const b=mk('rect',{x:cx[p]-9,y:yf(q3[p]),width:18,height:yf(q1[p])-yf(q3[p]),fill:'#fff',stroke:'#222','stroke-width':0.5},g);nm(b,'box-'+lv);
  line(cx[p]-9,yf(md[p]),cx[p]+9,yf(md[p]),'#111',1,g,'median');
  out[p].forEach(v=>{const d=mk('circle',{cx:cx[p],cy:yf(v),r:1.4,fill:'#111'},g);nm(d,'outlier');});
  tx(cx[p],yBot[p]+9,lv,7,{'text-anchor':'middle',fill:'#333'},'x-tick-label',g);
 });
 const by=yf(10.3);
 line(cLow[p],by,cHigh[p],by,'#444',0.6,g,'comparison-bracket');
 line(cLow[p],by,cLow[p],by+2,'#444',0.6,g,'bracket-tick');
 line(cHigh[p],by,cHigh[p],by+2,'#444',0.6,g,'bracket-tick');
 tx((cLow[p]+cHigh[p])/2,by-2,ipsP[p],6.3,{'text-anchor':'middle',fill:'#333'},'pvalue-label',g);
 tx(legX[p],legY[p]+3,'SIGLEC9',6.5,{fill:'#333'},'legend-title',g);
 const a=mk('rect',{x:legX[p]+40,y:legY[p]-4,width:6.5,height:8,fill:'#f8766d',stroke:'#333','stroke-width':0.4},g);nm(a,'legend-swatch-low');
 tx(legX[p]+49,legY[p]+2.5,'Low',5.3,{fill:'#333'},'legend-label-low',g);
 const b=mk('rect',{x:legX[p]+67,y:legY[p]-4,width:6.5,height:8,fill:'#00bfc4',stroke:'#333','stroke-width':0.4},g);nm(b,'legend-swatch-high');
 tx(legX[p]+76,legY[p]+2.5,'High',5.3,{fill:'#333'},'legend-label-high',g);
}
})();
</script>
</body></html>
